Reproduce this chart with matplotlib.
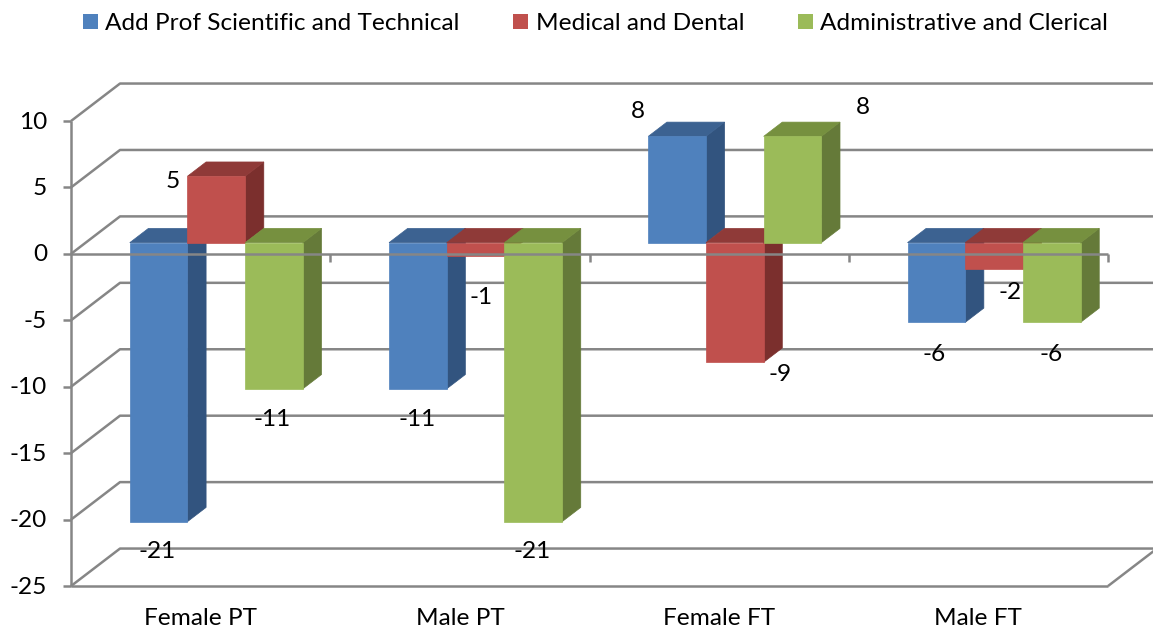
import matplotlib
matplotlib.use('Agg')
import matplotlib.pyplot as plt
from matplotlib.patches import Patch, Polygon

plt.rcParams['font.family'] = ['Lato', 'DejaVu Sans']

categories = ['Female PT', 'Male PT', 'Female FT', 'Male FT']
series_names = ['Add Prof Scientific and Technical', 'Medical and Dental', 'Administrative and Clerical']
add_prof = [-21, -11, 8, -6]
medical = [5, -1, -9, -2]
admin = [-11, -21, 8, -6]
y_ticks = [10, 5, 0, -5, -10, -15, -20, -25]

# front, side, top
colors = [('#4F81BD', '#32547F', '#3C6291'),
          ('#C0504D', '#7B2F2D', '#8F3A38'),
          ('#9BBB59', '#657A39', '#76903F')]
grid_color = '#868686'
font_size = 17.6

# pixel layout of the fake 3d box
W, H = 1153, 630
x0_px, cat_px = 71, 259.25
zero_px, unit_px = 253.9, 13.286
depth_x, depth_y = 49 / cat_px, 37.5 / unit_px
bar_w = 57.7 / cat_px
d_front, d_back = 0.30, 0.68
px = 0.72


def project(x, v, d):
    return x + d * depth_x, v + d * depth_y


def bar_3d(ax, x, value, cols):
    front, side, top = cols
    xl, xr = x, x + bar_w
    hi, lo = max(value, 0), min(value, 0)
    pts = [project(xl, lo, d_front), project(xr, lo, d_front), project(xr, hi, d_front), project(xl, hi, d_front)]
    # thin edge in the face colour closes the seams between faces
    ax.add_patch(Polygon([project(xr, lo, d_front), project(xr, lo, d_back), project(xr, hi, d_back), project(xr, hi, d_front)],
                         fc=side, ec=side, lw=0.5, zorder=3))
    ax.add_patch(Polygon([project(xl, hi, d_front), project(xr, hi, d_front), project(xr, hi, d_back), project(xl, hi, d_back)],
                         fc=top, ec=top, lw=0.5, zorder=3))
    ax.add_patch(Polygon(pts, fc=front, ec=front, lw=0.5, zorder=3))


fig = plt.figure(figsize=(W / 100, H / 100), dpi=100)
ax = fig.add_axes([0, 0, 1, 1])
ax.set_xlim(-x0_px / cat_px, (W - x0_px) / cat_px)
ax.set_ylim((zero_px - H) / unit_px, zero_px / unit_px)
ax.axis('off')

n = len(categories)
line = dict(color=grid_color, lw=1.8, solid_capstyle='butt', clip_on=True)

# walls
for t in y_ticks:
    a = project(0, t, 0)
    b = project(0, t, 1)
    c = project(n, t, 1)
    ax.plot([a[0], b[0], c[0]], [a[1], b[1], c[1]], zorder=1, **line)
    ax.plot([-8 / cat_px, 0], [t, t], zorder=5, **line)
    ax.annotate(str(t), (0, t), xytext=(-24 * px, -1 * px), textcoords='offset points',
                ha='right', va='center', fontsize=font_size, color='#000000')

# floor edge on the right
bottom = y_ticks[-1]
ax.plot([n, n + depth_x], [bottom, bottom + depth_y], zorder=1, **line)

# bars
series = [add_prof, medical, admin]
pad = (1 - 3 * bar_w) / 2 + 1 / cat_px
for i in range(n):
    for s in range(3):
        bar_3d(ax, i + pad + s * bar_w, series[s][i], colors[s])

# front axis lines go over the bars
ax.plot([0, 0], [y_ticks[0], bottom], zorder=5, **line)
ax.plot([0, n], [bottom, bottom], zorder=5, **line)
ax.plot([0, n], [0, 0], zorder=5, **line)
for i in range(1, n + 1):
    ax.plot([i, i], [0, -8 / unit_px], zorder=5, **line)

for i, c in enumerate(categories):
    ax.annotate(c, (i + 0.5, bottom), xytext=(0, -32 * px), textcoords='offset points',
                ha='center', va='center', fontsize=font_size, color='#000000')

# label shifts in pixels from the front face centre / end of each bar
nudges = [[(-1, 30), (-44, 5), (-2, 31)],
          [(-1, 31), (5, 42), (-1, 30)],
          [(-39, -25), (45, 12), (70, -29)],
          [(-2, 32), (16, 23), (-1, 32)]]
for i in range(n):
    for s in range(3):
        v = series[s][i]
        x, y = project(i + pad + (s + 0.5) * bar_w, v, d_front)
        dx, dy = nudges[i][s]
        ax.annotate(str(v), (x, y), xytext=(dx * px, -dy * px), textcoords='offset points',
                    ha='center', va='center', fontsize=font_size, color='#000000', zorder=6)

handles = [Patch(fc=c[0], ec='none') for c in colors]
ax.legend(handles, series_names, ncol=3, loc='upper left', bbox_to_anchor=(83 / W, 1 - 13 / H),
          frameon=False, fontsize=font_size, handlelength=0.61, handleheight=0.61,
          handletextpad=0.3, columnspacing=2.2, borderpad=0, borderaxespad=0)

fig.savefig('out.png', dpi=100)
